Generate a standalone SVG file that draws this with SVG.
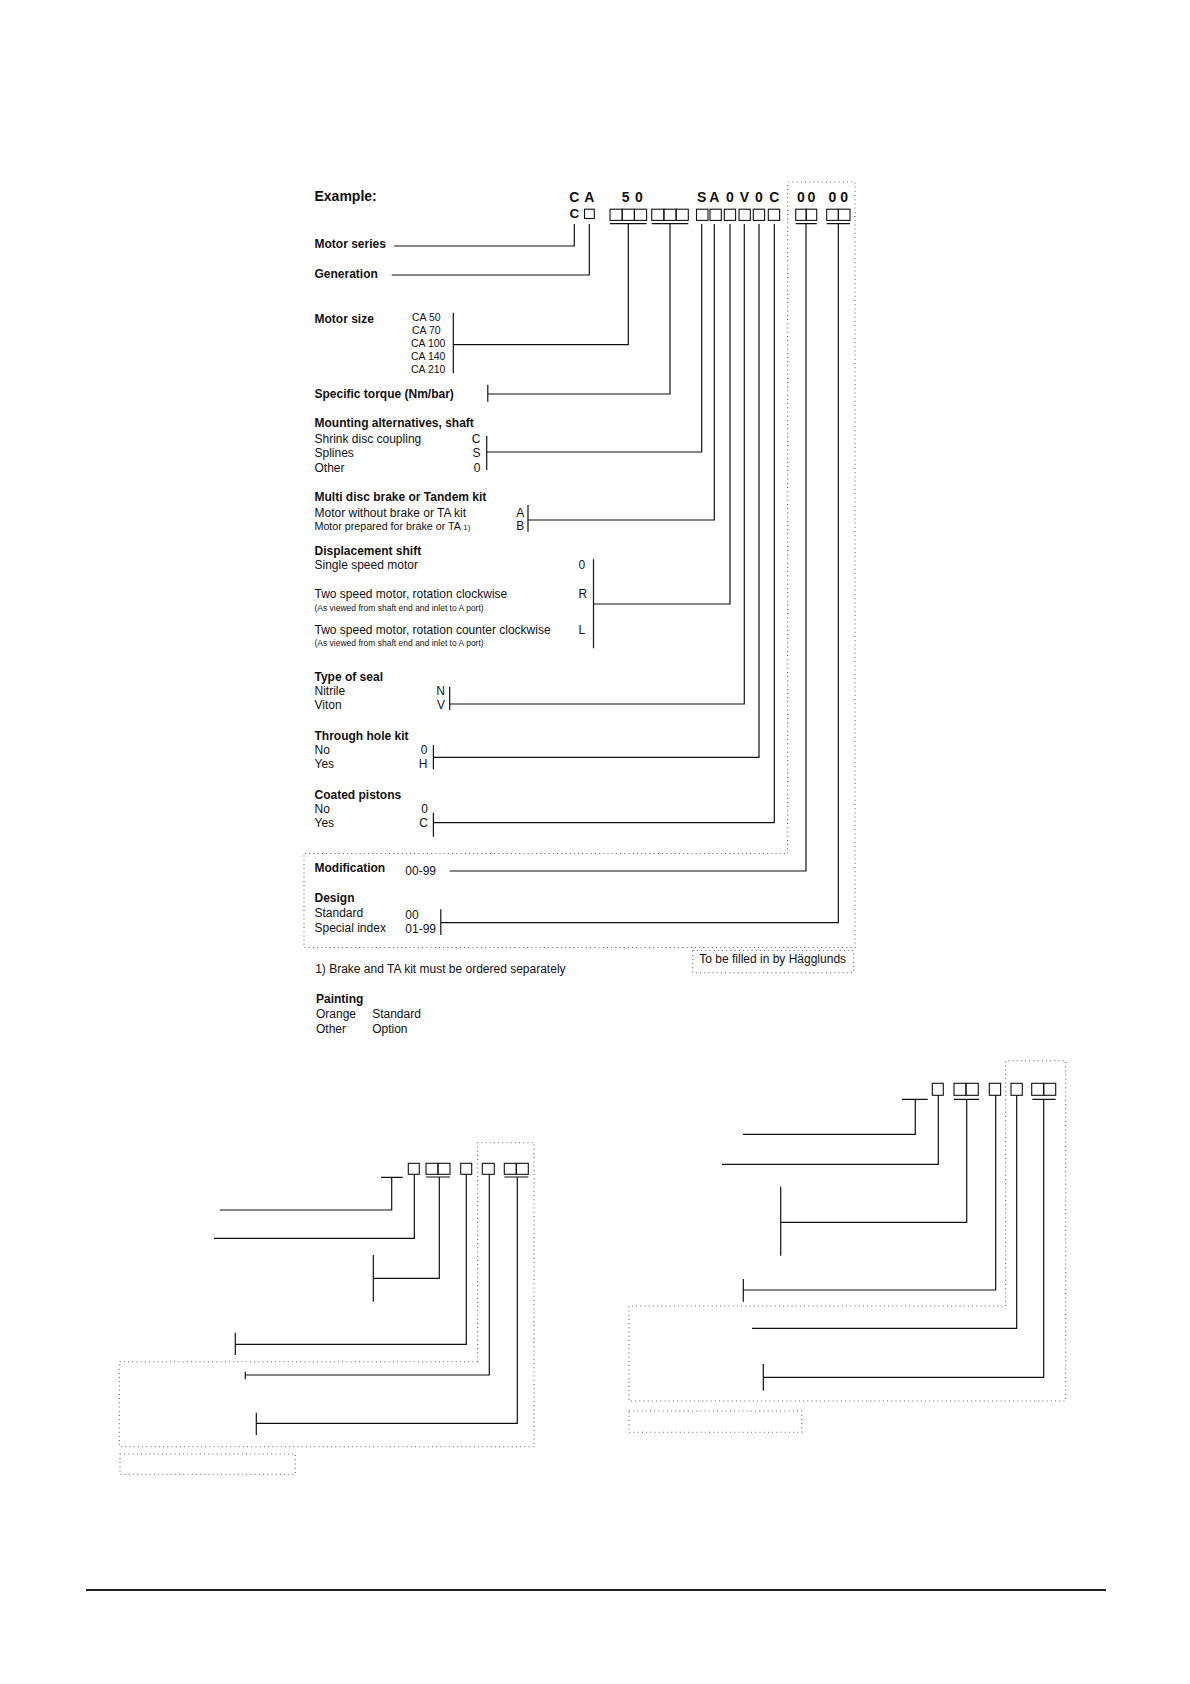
<svg xmlns="http://www.w3.org/2000/svg" width="1190" height="1684" viewBox="0 0 1190 1684">
<style>
.t{font-family:"Liberation Sans",Arial,Helvetica,sans-serif;font-size:12px;fill:#111}
.b{font-weight:bold}
.h{font-size:14px;font-weight:bold}
.code{font-size:14px;font-weight:bold}
.sm{font-size:8.5px}
.ca{font-size:10.5px}
.ln{stroke:#111;stroke-width:1.2;fill:none}
.bx{stroke:#111;stroke-width:1.1;fill:none}
.dot{stroke:#666;stroke-width:1.1;fill:none;stroke-dasharray:1 3.2}
</style>
<rect width="1190" height="1684" fill="#fff"/>

<g id="header">
  <text class="t h" x="314.5" y="200.7">Example:</text>
  <text class="t code" text-anchor="middle" x="574.3 589.3 625.7 639 701.7 714.3 730 744.3 759 774.3 801 811.5 832.5 844.2" y="201.8">CA50SA0V0C0000</text>
  <text class="t b" style="font-size:13.5px" text-anchor="middle" x="574.3" y="218.3">C</text>
</g>

<g id="code-boxes">
  <rect class="bx" x="584.5" y="209.2" width="9.8" height="9.3"/>
  <rect class="bx" x="610" y="209.2" width="12.2" height="11.2"/>
  <rect class="bx" x="622.2" y="209.2" width="12.2" height="11.2"/>
  <rect class="bx" x="634.4" y="209.2" width="12.2" height="11.2"/>
  <rect class="bx" x="651.7" y="209.2" width="12.2" height="11.2"/>
  <rect class="bx" x="663.9" y="209.2" width="12.2" height="11.2"/>
  <rect class="bx" x="676.1" y="209.2" width="12.2" height="11.2"/>
  <rect class="bx" x="696.5" y="209.2" width="11.5" height="11.2"/>
  <rect class="bx" x="710" y="209.2" width="11.3" height="11.2"/>
  <rect class="bx" x="724.3" y="209.2" width="11.3" height="11.2"/>
  <rect class="bx" x="739" y="209.2" width="11.3" height="11.2"/>
  <rect class="bx" x="753.3" y="209.2" width="11.3" height="11.2"/>
  <rect class="bx" x="768.3" y="209.2" width="11.3" height="11.2"/>
  <rect class="bx" x="795.7" y="209.2" width="10.5" height="11.2"/>
  <rect class="bx" x="806.2" y="209.2" width="10.5" height="11.2"/>
  <rect class="bx" x="826.7" y="209.2" width="11.65" height="11.2"/>
  <rect class="bx" x="838.35" y="209.2" width="11.65" height="11.2"/>
</g>

<g id="motor-series"><text class="t b" x="314.5" y="248">Motor series</text></g>
<g id="generation"><text class="t b" x="314.5" y="277.5">Generation</text></g>
<g id="motor-size">
  <text class="t b" x="314.5" y="322.7">Motor size</text>
  <text class="t ca" x="412" y="320.5">CA 50</text>
  <text class="t ca" x="412" y="333.5">CA 70</text>
  <text class="t ca" x="411" y="346.5">CA 100</text>
  <text class="t ca" x="411" y="359.5">CA 140</text>
  <text class="t ca" x="411" y="372.5">CA 210</text>
</g>
<g id="specific-torque"><text class="t b" x="314.5" y="398.3">Specific torque (Nm/bar)</text></g>
<g id="mounting">
  <text class="t b" x="314.5" y="427.3">Mounting alternatives, shaft</text>
  <text class="t" x="314.5" y="442.7">Shrink disc coupling</text>
  <text class="t" x="314.5" y="457.3">Splines</text>
  <text class="t" x="314.5" y="471.7">Other</text>
  <text class="t" x="480.5" y="442.7" text-anchor="end">C</text>
  <text class="t" x="480.5" y="457.3" text-anchor="end">S</text>
  <text class="t" x="480.5" y="471.7" text-anchor="end">0</text>
</g>
<g id="brake">
  <text class="t b" x="314.5" y="500.7">Multi disc brake or Tandem kit</text>
  <text class="t" x="314.5" y="516.7">Motor without brake or TA kit</text>
  <text class="t" x="314.5" y="530" style="font-size:10.7px">Motor prepared for brake or TA <tspan style="font-size:8px">1)</tspan></text>
  <text class="t" x="516.3" y="516.7">A</text>
  <text class="t" x="516.3" y="530">B</text>
</g>
<g id="displacement">
  <text class="t b" x="314.5" y="555">Displacement shift</text>
  <text class="t" x="314.5" y="569.3">Single speed motor</text>
  <text class="t" x="314.5" y="598.3">Two speed motor, rotation clockwise</text>
  <text class="t sm" x="314.5" y="610.7">(As viewed from shaft end and inlet to A port)</text>
  <text class="t" x="314.5" y="634.3">Two speed motor, rotation counter clockwise</text>
  <text class="t sm" x="314.5" y="646">(As viewed from shaft end and inlet to A port)</text>
  <text class="t" x="578.5" y="569.3">0</text>
  <text class="t" x="578.5" y="598.3">R</text>
  <text class="t" x="578.5" y="634.3">L</text>
</g>
<g id="seal">
  <text class="t b" x="314.5" y="680.7">Type of seal</text>
  <text class="t" x="314.5" y="695">Nitrile</text>
  <text class="t" x="314.5" y="709.3">Viton</text>
  <text class="t" x="445" y="695" text-anchor="end">N</text>
  <text class="t" x="445" y="709.3" text-anchor="end">V</text>
</g>
<g id="through-hole">
  <text class="t b" x="314.5" y="740">Through hole kit</text>
  <text class="t" x="314.5" y="754">No</text>
  <text class="t" x="314.5" y="768.3">Yes</text>
  <text class="t" x="427.5" y="754" text-anchor="end">0</text>
  <text class="t" x="427.5" y="768.3" text-anchor="end">H</text>
</g>
<g id="coated">
  <text class="t b" x="314.5" y="799.3">Coated pistons</text>
  <text class="t" x="314.5" y="813.3">No</text>
  <text class="t" x="314.5" y="826.7">Yes</text>
  <text class="t" x="428" y="813.3" text-anchor="end">0</text>
  <text class="t" x="428" y="826.7" text-anchor="end">C</text>
</g>
<g id="modification">
  <text class="t b" x="314.5" y="872.3">Modification</text>
  <text class="t" x="405.3" y="875">00-99</text>
</g>
<g id="design">
  <text class="t b" x="314.5" y="902.3">Design</text>
  <text class="t" x="314.5" y="916.7">Standard</text>
  <text class="t" x="314.5" y="931.7">Special index</text>
  <text class="t" x="405.3" y="919.3">00</text>
  <text class="t" x="405.3" y="933.3">01-99</text>
</g>
<g id="filled-by">
  <rect class="dot" x="692.7" y="950.5" width="161" height="22.2"/>
  <text class="t" x="699.3" y="963.3">To be filled in by  Hägglunds</text>
</g>
<g id="footnote"><text class="t" x="315.2" y="973.3">1) Brake and TA kit must be ordered separately</text></g>
<g id="painting">
  <text class="t b" x="316" y="1003.3">Painting</text>
  <text class="t" x="316" y="1018.3">Orange</text>
  <text class="t" x="316" y="1032.7">Other</text>
  <text class="t" x="372.2" y="1018.3">Standard</text>
  <text class="t" x="372.2" y="1032.7">Option</text>
</g>

<g id="frames">
  <path class="dot" d="M787.7 853.5 V182 H855 V947.5 H304 V853.5 Z"/>
  <path class="dot" d="M477.7 1361.7 V1142.7 H534 V1446.7 H119.3 V1361.7 Z"/>
  <rect class="dot" x="120" y="1454" width="175.3" height="20.3"/>
  <path class="dot" d="M1005.7 1306 V1060.7 H1065.7 V1401 H629 V1306 Z"/>
  <rect class="dot" x="629" y="1411" width="172.7" height="21.3"/>
</g>

<g id="blank-boxes-left">
  <rect class="bx" x="408.3" y="1163.3" width="11" height="11"/>
  <rect class="bx" x="426" y="1163.3" width="12" height="11"/>
  <rect class="bx" x="438" y="1163.3" width="12" height="11"/>
  <rect class="bx" x="460.7" y="1163.3" width="11" height="11"/>
  <rect class="bx" x="482.3" y="1163.3" width="12" height="11"/>
  <rect class="bx" x="504.3" y="1163.3" width="12" height="11"/>
  <rect class="bx" x="516.3" y="1163.3" width="12" height="11"/>
</g>
<g id="blank-boxes-right">
  <rect class="bx" x="932.3" y="1083.3" width="11" height="12"/>
  <rect class="bx" x="954" y="1083.3" width="12" height="12"/>
  <rect class="bx" x="966" y="1083.3" width="12.3" height="12"/>
  <rect class="bx" x="989.3" y="1083.3" width="11.3" height="12"/>
  <rect class="bx" x="1011" y="1083.3" width="11.3" height="12"/>
  <rect class="bx" x="1031.7" y="1083.3" width="12" height="12"/>
  <rect class="bx" x="1043.7" y="1083.3" width="12" height="12"/>
</g>

<g id="connectors">
  <path class="ln" d="M610 223.7 H646.6 M651.7 223.7 H688.3 M795.7 223.7 H816.7 M826.7 223.7 H850"/>
  <path class="ln" d="M574.3 224 V246 H394.2"/>
  <path class="ln" d="M589.3 224 V275 H391.7"/>
  <path class="ln" d="M628.3 223.7 V344.7 H453.3 M453.3 312.7 V373.3"/>
  <path class="ln" d="M670 223.7 V394 H487.8 M487.8 384.7 V401.7"/>
  <path class="ln" d="M701.7 224 V452 H486.7 M486.7 436 V470"/>
  <path class="ln" d="M714.3 224 V520 H528 M528 505 V531.7"/>
  <path class="ln" d="M730 224 V604 H593.5 M593.5 559.3 V648.3"/>
  <path class="ln" d="M744.3 224 V704 H449.7 M449.7 686.7 V710"/>
  <path class="ln" d="M759 224 V757.3 H433.4 M433.4 745 V769.3"/>
  <path class="ln" d="M774.3 224 V822.7 H433.4 M433.4 812.7 V836.7"/>
  <path class="ln" d="M806 223.7 V871 H449.7"/>
  <path class="ln" d="M838.3 223.7 V922.7 H440.8 M440.8 909.3 V935"/>

  <path class="ln" d="M426 1177 H450 M504.3 1177 H528.3"/>
  <path class="ln" d="M381 1177.3 H402.7 M391.7 1177.3 V1210 H220"/>
  <path class="ln" d="M414.3 1174.3 V1238.3 H214"/>
  <path class="ln" d="M439.3 1177 V1278.3 H373.3 M373.3 1255 V1301.7"/>
  <path class="ln" d="M466.3 1174.3 V1344.3 H235.3 M235.3 1332.7 V1355"/>
  <path class="ln" d="M489.3 1174.3 V1375 H245.3 M245.3 1371.7 V1379.3"/>
  <path class="ln" d="M517.3 1177 V1423.3 H256.3 M256.3 1412.7 V1435"/>

  <path class="ln" d="M954 1099.3 H979 M1032.3 1099.3 H1055.7"/>
  <path class="ln" d="M902 1099.3 H927.7 M915.3 1099.3 V1134.3 H743"/>
  <path class="ln" d="M938.3 1095.3 V1164.3 H722"/>
  <path class="ln" d="M966.7 1099.3 V1222.3 H780.7 M780.7 1186.7 V1255.7"/>
  <path class="ln" d="M995.7 1095.3 V1290 H743.3 M743.3 1279 V1301.7"/>
  <path class="ln" d="M1016.7 1095.3 V1328.3 H752"/>
  <path class="ln" d="M1043.7 1099.3 V1377.3 H763.3 M763.3 1364 V1390.7"/>
</g>

<g id="footer">
  <line x1="86" y1="1590" x2="1106" y2="1590" stroke="#222" stroke-width="2"/>
</g>
</svg>
